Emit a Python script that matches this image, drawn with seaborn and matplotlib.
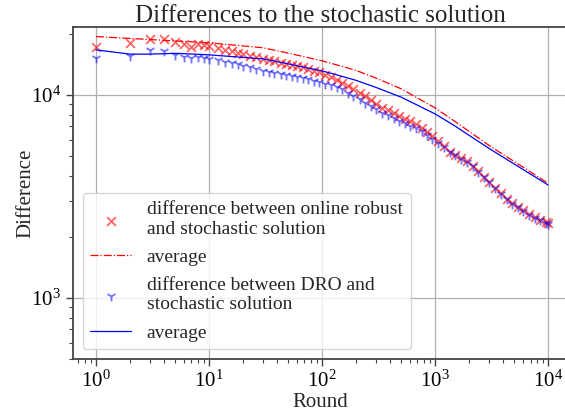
import numpy as np
import pandas as pd
import matplotlib
matplotlib.use("Agg")
import matplotlib.pyplot as plt
import seaborn as sns

# ---------------- data ----------------
rounds = [1, 2, 3, 4, 5, 6, 7, 8, 9, 10, 12, 14, 16, 18, 20, 23, 26, 30, 34, 38,
          43, 48, 54, 60, 68, 76, 85, 95, 107, 120, 135, 150, 170, 190, 215, 240,
          270, 300, 340, 380, 430, 480, 540, 600, 680, 760, 850, 950, 1070, 1200,
          1350, 1500, 1700, 1900, 2150, 2400, 2700, 3000, 3400, 3800, 4300, 4800,
          5400, 6000, 6800, 7600, 8500, 9500, 10000]

robust_diff = [17240, 17980, 18870, 18810, 18180, 17770, 17290, 17770, 17640, 17440,
               17020, 16660, 16360, 16120, 15890, 15580, 15320, 15030, 14790, 14620,
               14430, 14250, 14070, 13910, 13660, 13410, 13160, 12920, 12550, 12180,
               11830, 11500, 11050, 10660, 10250, 9830, 9400, 9020, 8640, 8380,
               8110, 7860, 7620, 7400, 7150, 6900, 6570, 6250, 5940, 5600,
               5260, 5080, 4890, 4710, 4480, 4220, 3960, 3740, 3490, 3290,
               3080, 2930, 2810, 2700, 2580, 2500, 2430, 2360, 2330]

dro_diff = [15160, 15610, 16600, 16470, 15740, 15440, 15160, 15440, 15270, 15040,
            14770, 14540, 14350, 14120, 13930, 13660, 13430, 13160, 12970, 12820,
            12680, 12530, 12390, 12270, 12100, 11920, 11760, 11590, 11370, 11140,
            10910, 10670, 10240, 9890, 9500, 9150, 8800, 8490, 8160, 7920,
            7660, 7430, 7230, 7050, 6850, 6660, 6350, 6060, 5760, 5550,
            5220, 5040, 4850, 4680, 4450, 4180, 3930, 3710, 3470, 3260,
            3060, 2900, 2790, 2680, 2560, 2480, 2410, 2340, 2320]

avg_rounds = [1, 2, 3, 5, 7, 10, 15, 20, 30, 50, 70, 100, 150, 200, 300, 500, 700,
              1000, 1500, 2000, 3000, 5000, 7000, 10000]

robust_avg = [19370, 18960, 18730, 18430, 18250, 18040, 17680, 17420, 17060, 16070,
              15390, 14710, 13820, 13200, 12100, 10720, 9650, 8630, 7400, 6610,
              5640, 4700, 4170, 3670]

dro_avg = [16660, 15870, 15870, 16010, 15890, 15740, 15480, 15300, 15040, 14220,
           13650, 13130, 12340, 11790, 10880, 9750, 8890, 8060, 7030, 6320,
           5450, 4570, 4070, 3600]

labels = ["difference between online robust\nand stochastic solution",
          "average",
          "difference between DRO and\nstochastic solution",
          "average"]

title = "Differences to the stochastic solution"
xlabel = "Round"
ylabel = "Difference"

# ---------------- style ----------------
sns.set_theme(style="ticks")
plt.rcParams["font.family"] = ["Liberation Serif", "DejaVu Serif"]
plt.rcParams["mathtext.fontset"] = "stix"
plt.rcParams["axes.edgecolor"] = "#444444"
plt.rcParams["xtick.color"] = "#444444"
plt.rcParams["ytick.color"] = "#444444"
plt.rcParams["xtick.labelcolor"] = "black"
plt.rcParams["ytick.labelcolor"] = "black"

scatter_df = pd.DataFrame({"round": rounds, "robust": robust_diff, "dro": dro_diff})
avg_df = pd.DataFrame({"round": avg_rounds, "robust": robust_avg, "dro": dro_avg})

fig = plt.figure(figsize=(5.65, 4.12), dpi=100)
ax = fig.add_axes([0.129, 0.1286, 0.876, 0.806])

sns.scatterplot(data=scatter_df, x="round", y="robust", marker="x", color="red",
                s=40, alpha=0.6, linewidth=1.3, ax=ax, label="h0", zorder=3)
sns.lineplot(data=avg_df, x="round", y="robust", color="red", linestyle="-.",
             linewidth=0.9, ax=ax, label="h1", zorder=4, errorbar=None)
sns.scatterplot(data=scatter_df, x="round", y="dro", marker="1", color="blue",
                s=50, alpha=0.55, linewidth=1.3, ax=ax, label="h2", zorder=3)
sns.lineplot(data=avg_df, x="round", y="dro", color="blue", linestyle="-",
             linewidth=0.9, ax=ax, label="h3", zorder=4, errorbar=None)

ax.set_xscale("log")
ax.set_yscale("log")
ax.set_xlim(0.626, 14960)
ax.set_ylim(500, 21600)

ax.grid(True, which="major", color="#b0b0b0", linewidth=0.9)
ax.grid(False, which="minor")
for side in ["left", "bottom", "top", "right"]:
    ax.spines[side].set_linewidth(1.3)
    ax.spines[side].set_color("#444444")

ax.tick_params(axis="both", which="major", labelsize=15, length=5, width=1.0)
ax.tick_params(axis="both", which="minor", length=3, width=0.8)

ax.set_title(title, fontsize=18, pad=3)
ax.set_xlabel(xlabel, fontsize=15, labelpad=1)
ax.set_ylabel(ylabel, fontsize=15, labelpad=-3)

hs, ls = ax.get_legend_handles_labels()
hmap = dict(zip(ls, hs))
handles = [hmap["h0"], hmap["h1"], hmap["h2"], hmap["h3"]]
leg = ax.legend(handles, labels, loc="lower left", fontsize=14, framealpha=0.8,
                borderaxespad=0.5, handlelength=2.1, handletextpad=0.8,
                labelspacing=0.55, borderpad=0.4)
leg.get_frame().set_edgecolor("#cccccc")

fig.savefig("out.png", dpi=100)
